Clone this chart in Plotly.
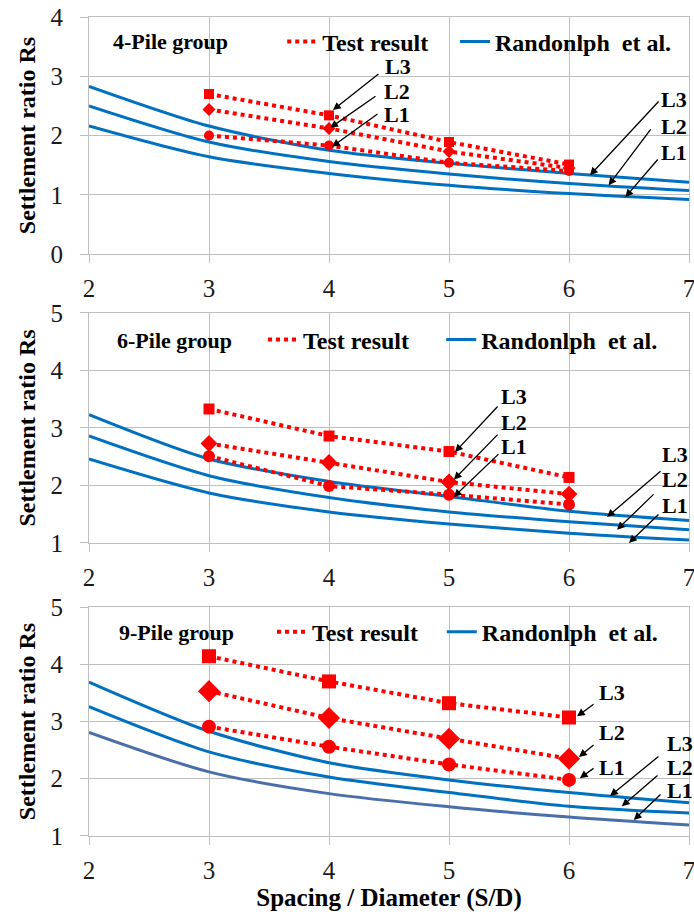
import plotly.graph_objects as go

# ---------------- data ----------------
test_x = [3, 4, 5, 6]
theory_x = [2, 3, 4, 5, 6, 7]
x_ticks = [2, 3, 4, 5, 6, 7]

# 4-pile group
p4_test_L3 = [2.70, 2.34, 1.89, 1.51]
p4_test_L2 = [2.44, 2.12, 1.73, 1.45]
p4_test_L1 = [2.00, 1.83, 1.54, 1.40]
p4_theory_L3 = [2.83, 2.16, 1.75, 1.53, 1.36, 1.21]
p4_theory_L2 = [2.50, 1.89, 1.56, 1.35, 1.19, 1.07]
p4_theory_L1 = [2.16, 1.64, 1.36, 1.16, 1.02, 0.92]

# 6-pile group
p6_test_L3 = [3.33, 2.86, 2.59, 2.14]
p6_test_L2 = [2.73, 2.40, 2.06, 1.85]
p6_test_L1 = [2.51, 1.99, 1.84, 1.67]
p6_theory_L3 = [3.23, 2.46, 2.07, 1.81, 1.55, 1.39]
p6_theory_L2 = [2.86, 2.17, 1.79, 1.54, 1.37, 1.23]
p6_theory_L1 = [2.46, 1.87, 1.54, 1.33, 1.17, 1.05]

# 9-pile group
p9_test_L3 = [4.14, 3.70, 3.32, 3.07]
p9_test_L2 = [3.53, 3.06, 2.70, 2.35]
p9_test_L1 = [2.91, 2.56, 2.25, 1.98]
p9_theory_L3 = [3.69, 2.83, 2.28, 1.98, 1.76, 1.58]
p9_theory_L2 = [3.26, 2.47, 2.03, 1.76, 1.52, 1.40]
p9_theory_L1 = [2.81, 2.12, 1.74, 1.51, 1.33, 1.19]

panel_titles = ["4-Pile group", "6-Pile group", "9-Pile group"]
y_ranges = [[0, 4], [1, 5], [1, 5]]
y_tickvals = [[0, 1, 2, 3, 4], [1, 2, 3, 4, 5], [1, 2, 3, 4, 5]]
legend_names = ["Test result", "Randonlph  et al."]
level_labels = ["L3", "L2", "L1"]

# ---------------- styles ----------------
RED = "#FF0000"
BLUE = "#0070C0"
BLUE_DARK = "#4A6EA9"
GRID = "#BFBFBF"
SERIF = "Liberation Serif, Times New Roman, serif"

panels = [
    dict(test=[p4_test_L3, p4_test_L2, p4_test_L1],
         theory=[p4_theory_L3, p4_theory_L2, p4_theory_L1],
         msize=[10, 10, 10], tcolors=[BLUE, BLUE, BLUE]),
    dict(test=[p6_test_L3, p6_test_L2, p6_test_L1],
         theory=[p6_theory_L3, p6_theory_L2, p6_theory_L1],
         msize=[11, 13, 12], tcolors=[BLUE, BLUE, BLUE]),
    dict(test=[p9_test_L3, p9_test_L2, p9_test_L1],
         theory=[p9_theory_L3, p9_theory_L2, p9_theory_L1],
         msize=[14, 17, 14], tcolors=[BLUE, BLUE, BLUE_DARK]),
]
symbols = ["square", "diamond", "circle"]

# vertical domains (paper) for the three panels
domains = [[0.7106, 1.0], [0.3578, 0.6386], [0.0, 0.2796]]
# one legend box per entry: (red item x, blue item x, y)
legend_pos = [(0.322, 0.61, 0.9695), (0.29, 0.587, 0.6056), (0.305, 0.588, 0.249)]
title_pos = [(0.135, 0.9695), (0.143, 0.6056), (0.145, 0.249)]

fig = go.Figure()

for i, p in enumerate(panels):
    xa = "x" if i == 0 else f"x{i+1}"
    ya = "y" if i == 0 else f"y{i+1}"
    for k in range(3):
        fig.add_trace(go.Scatter(
            x=theory_x, y=p["theory"][k], mode="lines",
            line=dict(color=p["tcolors"][k], width=3, shape="spline", smoothing=0.8),
            xaxis=xa, yaxis=ya, showlegend=False, hoverinfo="skip"))
    for k in range(3):
        fig.add_trace(go.Scatter(
            x=test_x, y=p["test"][k], mode="lines+markers",
            line=dict(color=RED, width=4, dash="4px,4px"),
            marker=dict(symbol=symbols[k], size=p["msize"][k], color=RED),
            xaxis=xa, yaxis=ya, showlegend=False))
    lg_red = "legend" if i == 0 else f"legend{2*i+1}"
    lg_blue = f"legend{2*i+2}"
    fig.add_trace(go.Scatter(
        x=[None], y=[None], mode="lines", name=legend_names[0],
        line=dict(color=RED, width=4, dash="4px,4px"),
        xaxis=xa, yaxis=ya, legend=lg_red))
    fig.add_trace(go.Scatter(
        x=[None], y=[None], mode="lines", name=legend_names[1],
        line=dict(color=BLUE, width=3),
        xaxis=xa, yaxis=ya, legend=lg_blue))

axis_common = dict(
    showgrid=True, gridcolor=GRID, gridwidth=1,
    showline=True, linecolor=GRID, linewidth=1, mirror=True,
    ticks="outside", ticklen=8, tickcolor=GRID, tickwidth=1,
    zeroline=False, automargin=False,
    tickfont=dict(family=SERIF, size=25, color="#1a1a1a"),
)

layout = dict(
    width=694, height=915,
    margin=dict(l=89, r=5, t=17, b=79, autoexpand=False),
    paper_bgcolor="white", plot_bgcolor="white",
    font=dict(family=SERIF, color="black"),
)

for i in range(3):
    xk = "xaxis" if i == 0 else f"xaxis{i+1}"
    yk = "yaxis" if i == 0 else f"yaxis{i+1}"
    ya_name = "y" if i == 0 else f"y{i+1}"
    xa_name = "x" if i == 0 else f"x{i+1}"
    xd = dict(axis_common, range=[2, 7], tickvals=x_ticks, anchor=ya_name,
              domain=[0, 1], ticklabelstandoff=4, ticklabeloverflow="allow")
    if i == 2:
        xd["title"] = dict(text="<b>Spacing / Diameter (S/D)</b>",
                           font=dict(family=SERIF, size=25), standoff=4)
    layout[xk] = xd
    layout[yk] = dict(axis_common, range=y_ranges[i], tickvals=y_tickvals[i],
                      anchor=xa_name, domain=domains[i], ticklabelstandoff=12,
                      title=dict(text="<b>Settlement ratio Rs</b>",
                                 font=dict(family=SERIF, size=24), standoff=8))
    rx, bx, ly = legend_pos[i]
    for lg, lx in (("legend" if i == 0 else f"legend{2*i+1}", rx), (f"legend{2*i+2}", bx)):
        layout[lg] = dict(
            orientation="h", x=lx, y=ly, xanchor="left", yanchor="middle",
            bgcolor="rgba(0,0,0,0)", itemwidth=30,
            font=dict(family=SERIF, size=24, color="black", weight="bold"))

fig.update_layout(**layout)

# ---------------- annotations ----------------
ann = []
for i in range(3):
    tx, ty = title_pos[i]
    ann.append(dict(text=panel_titles[i], x=tx, y=ty, xref="paper", yref="paper",
                    showarrow=False, xanchor="center", yanchor="middle",
                    font=dict(family=SERIF, size=22, color="black", weight="bold")))

arrow_sets = [
    dict(arrows=[(4.033, 2.43, 4.425, 3.06), (4.01, 2.13, 4.40, 2.68), (4.025, 1.81, 4.417, 2.38),
                 (6.175, 1.33, 6.758, 2.60), (6.33, 1.16, 6.69, 2.13), (6.47, 0.96, 6.75, 1.62)],
         labels=[(4.575, 3.16), (4.567, 2.75), (4.567, 2.35),
                 (6.875, 2.60), (6.875, 2.16), (6.875, 1.72)]),
    dict(arrows=[(5.05, 2.58, 5.417, 3.40), (5.04, 2.10, 5.417, 2.91), (5.04, 1.80, 5.425, 2.57),
                 (6.317, 1.45, 6.775, 2.27), (6.40, 1.23, 6.717, 1.87), (6.50, 1.00, 6.758, 1.52)],
         labels=[(5.54, 3.54), (5.54, 3.10), (5.54, 2.67),
                 (6.883, 2.53), (6.883, 2.10), (6.883, 1.66)]),
    dict(arrows=[(6.067, 3.09, 6.217, 3.32), (6.083, 2.38, 6.217, 2.61), (6.09, 2.01, 6.217, 2.20),
                 (6.342, 1.70, 6.758, 2.41), (6.44, 1.52, 6.75, 2.08), (6.54, 1.28, 6.775, 1.75)],
         labels=[(6.358, 3.51), (6.358, 2.81), (6.358, 2.20),
                 (6.925, 2.62), (6.925, 2.20), (6.925, 1.80)]),
]

for i, s in enumerate(arrow_sets):
    xr = "x" if i == 0 else f"x{i+1}"
    yr = "y" if i == 0 else f"y{i+1}"
    for (hx, hy, tx, ty) in s["arrows"]:
        ann.append(dict(text="", x=hx, y=hy, ax=tx, ay=ty, xref=xr, yref=yr,
                        axref=xr, ayref=yr, showarrow=True, arrowhead=2,
                        arrowsize=1.2, arrowwidth=1.3, arrowcolor="black", standoff=0))
    for j, (lx, ly) in enumerate(s["labels"]):
        ann.append(dict(text=level_labels[j % 3], x=lx, y=ly, xref=xr, yref=yr,
                        showarrow=False, xanchor="center", yanchor="middle",
                        font=dict(family=SERIF, size=22, color="black", weight="bold")))

fig.update_layout(annotations=ann)
fig.write_html("out.html")
